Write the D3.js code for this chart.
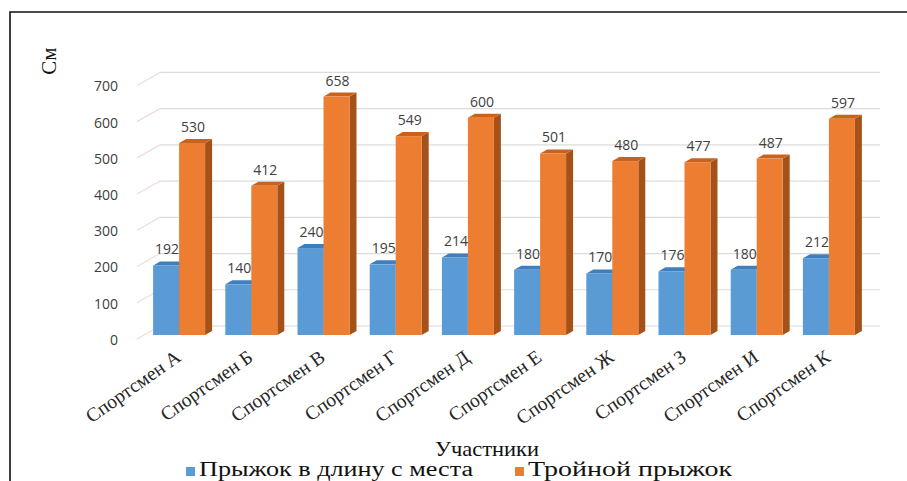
<!DOCTYPE html>
<html>
<head>
<meta charset="utf-8">
<script src="https://cdn.jsdelivr.net/npm/d3@7"></script>
<style>
  html, body { margin: 0; padding: 0; background: #fff; }
  svg { display: block; }
</style>
</head>
<body>
<script>
// Data
const categories = ["Спортсмен А", "Спортсмен Б", "Спортсмен В", "Спортсмен Г", "Спортсмен Д",
                    "Спортсмен Е", "Спортсмен Ж", "Спортсмен З", "Спортсмен И", "Спортсмен К"];
const seriesNames = ["Прыжок в длину с места", "Тройной прыжок"];
const standingJump = [192, 140, 240, 195, 214, 180, 170, 176, 180, 212];
const tripleJump = [530, 412, 658, 549, 600, 501, 480, 477, 487, 597];
const yTicks = [0, 100, 200, 300, 400, 500, 600, 700];
const yTitle = "См";
const xTitle = "Участники";

const W = 907, H = 481;
const svg = d3.select("body").append("svg").attr("width", W).attr("height", H);

// frame
svg.append("path").attr("d", `M10,${H} L10,12 L${W},12`)
  .attr("fill", "none").attr("stroke", "#111").attr("stroke-width", 1.6);

// scales
const x = d3.scaleBand().domain(categories).range([143, 865]).paddingInner(0.28).paddingOuter(0.14);
const xs = d3.scaleBand().domain([0, 1]).range([0, x.bandwidth()]);
const y = d3.scaleLinear().domain([0, 700]).range([335, 81.4]);

// 3D depth offsets
const wallDx = 23, wallDy = -13;    // side wall lines
const backShift = -9;              // back wall gridlines relative to front plane
const barDx = 7, barDy = -4;       // bar depth

// back wall gridlines + side wall lines
const grid = svg.append("g");
yTicks.forEach(t => {
  const yf = y(t);
  grid.append("line").attr("x1", 160).attr("x2", 880)
    .attr("y1", yf + backShift).attr("y2", yf + backShift)
    .attr("stroke", "#dcdcdc").attr("stroke-width", 1.2);
  grid.append("line").attr("x1", 137).attr("y1", yf + 4)
    .attr("x2", 137 + wallDx).attr("y2", yf + 4 + wallDy)
    .attr("stroke", "#eedcd8").attr("stroke-width", 1.2);
  grid.append("text").attr("x", 118).attr("y", yf + 5).attr("dy", "0.35em")
    .attr("text-anchor", "end").attr("font-family", "'Open Sans', sans-serif")
    .attr("font-size", 14).attr("fill", "#404040").text(t);
});

// bars
const colors = [
  { front: "#5b9bd5", top: "#3f7fbf", side: "#3a6ea5" },
  { front: "#ed7d31", top: "#c9621d", side: "#a4521a" }
];
const series = [standingJump, tripleJump];

const bars = svg.append("g");
categories.forEach((c, i) => {
  // blue first, then orange in front of its side face
  series.forEach((vals, s) => {
    const v = vals[i];
    const x0 = x(c) + xs(s), w = xs.bandwidth();
    const yt = y(v), yb = y(0);
    const col = colors[s];
    const g = bars.append("g");
    // side face
    g.append("path").attr("d",
      `M${x0 + w},${yt} L${x0 + w + barDx},${yt + barDy} L${x0 + w + barDx},${yb + barDy} L${x0 + w},${yb} Z`)
      .attr("fill", col.side);
    // top face
    g.append("path").attr("d",
      `M${x0},${yt} L${x0 + barDx},${yt + barDy} L${x0 + w + barDx},${yt + barDy} L${x0 + w},${yt} Z`)
      .attr("fill", col.top);
    // front face
    g.append("rect").attr("x", x0).attr("y", yt).attr("width", w).attr("height", yb - yt)
      .attr("fill", col.front);
  });
});

// value labels
const labels = svg.append("g").attr("font-family", "'Open Sans', sans-serif")
  .attr("font-size", 14).attr("fill", "#404040").attr("text-anchor", "middle");
categories.forEach((c, i) => {
  series.forEach((vals, s) => {
    const v = vals[i];
    labels.append("text")
      .attr("x", x(c) + xs(s) + xs.bandwidth() / 2 + 1)
      .attr("y", y(v) - 11)
      .text(v);
  });
});

// category labels, slanted
const cat = svg.append("g").attr("font-family", "'Liberation Serif', 'Times New Roman', serif")
  .attr("font-size", 19.5).attr("fill", "#262626");
categories.forEach(c => {
  const cx = x(c) + x.bandwidth() / 2 + 3, cy = 360;
  cat.append("text").attr("text-anchor", "end")
    .attr("transform", `translate(${cx},${cy}) rotate(-35)`).text(c);
});

// axis titles
svg.append("text").attr("transform", "translate(56,61) rotate(-90)")
  .attr("text-anchor", "middle").attr("font-family", "'Liberation Serif', serif")
  .attr("font-size", 21).attr("fill", "#111").text(yTitle);
svg.append("text").attr("x", 487).attr("y", 456).attr("text-anchor", "middle")
  .attr("font-family", "'Liberation Serif', serif").attr("font-size", 21)
  .attr("textLength", 104).attr("lengthAdjust", "spacingAndGlyphs")
  .attr("fill", "#111").text(xTitle);

// legend
const legend = svg.append("g").attr("font-family", "'Liberation Serif', serif")
  .attr("font-size", 20).attr("fill", "#111");
const legX = [186, 515];
const legLen = [274, 204];
seriesNames.forEach((n, s) => {
  legend.append("rect").attr("x", legX[s]).attr("y", 467).attr("width", 9).attr("height", 9)
    .attr("fill", colors[s].front);
  legend.append("text").attr("x", legX[s] + 13).attr("y", 476)
    .attr("textLength", legLen[s]).attr("lengthAdjust", "spacingAndGlyphs").text(n);
});
</script>
</body>
</html>
